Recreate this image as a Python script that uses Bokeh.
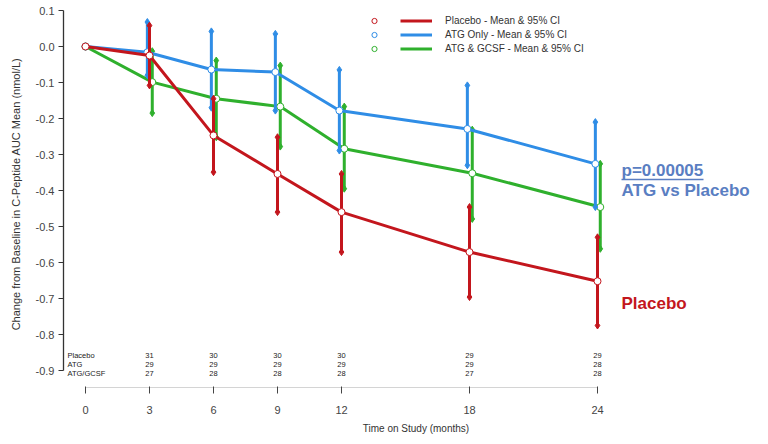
from bokeh.plotting import figure
from bokeh.models import Range1d, FixedTicker, Legend, LegendItem, Label, NumeralTickFormatter
from bokeh.embed import file_html
from bokeh.resources import INLINE
from bokeh.core.properties import value

# ---------------- data ----------------
months = [0, 3, 6, 9, 12, 18, 24]

placebo_mean = [0.0, -0.025, -0.247, -0.354, -0.460, -0.571, -0.652]
placebo_lo   = [0.0, -0.108, -0.349, -0.460, -0.571, -0.696, -0.775]
placebo_hi   = [0.0,  0.058, -0.145, -0.252, -0.354, -0.446, -0.530]

atg_mean = [0.0, -0.016, -0.064, -0.071, -0.178, -0.229, -0.326]
atg_lo   = [0.0, -0.080, -0.170, -0.178, -0.289, -0.330, -0.446]
atg_hi   = [0.0,  0.068,  0.042,  0.035, -0.065, -0.108, -0.210]

gcsf_mean = [0.0, -0.099, -0.145, -0.167, -0.284, -0.352, -0.446]
gcsf_lo   = [0.0, -0.185, -0.252, -0.278, -0.395, -0.479, -0.562]
gcsf_hi   = [0.0, -0.013, -0.039, -0.053, -0.167, -0.231, -0.326]

risk_months = [3, 6, 9, 12, 18, 24]
placebo_n = [31, 30, 30, 30, 29, 29]
atg_n     = [29, 29, 29, 29, 29, 28]
gcsf_n    = [27, 28, 28, 28, 27, 28]
risk_labels = ["Placebo", "ATG", "ATG/GCSF"]

legend_labels = ["Placebo - Mean & 95% CI", "ATG Only - Mean & 95% CI", "ATG & GCSF - Mean & 95% CI"]
x_ticks = [0, 3, 6, 9, 12, 18, 24]
y_ticks = [0.1, 0.0, -0.1, -0.2, -0.3, -0.4, -0.5, -0.6, -0.7, -0.8, -0.9]

# ---------------- layout ----------------
FONT = "Liberation Sans"
RED, BLUE, GREEN = "#c3161d", "#2f8de6", "#2fb02d"
W, H = 768, 444
L = 63
frame_h = 387
B = H - frame_h
X0, PXM = 85.0, 512.0 / 24      # px of month 0, px per month
Y0, PXU = 46.0, 360.0           # px of 0.0, px per unit

def xd(px):
    return (px - X0) / PXM

def yd(py):
    return (Y0 - py) / PXU

p = figure(width=W, height=H,
           x_range=Range1d(xd(L), xd(W)), y_range=Range1d(yd(frame_h), yd(0)),
           output_backend="svg", toolbar_location=None,
           min_border_left=L, min_border_right=0, min_border_top=0, min_border_bottom=B)
p.outline_line_color = None
p.xgrid.visible = False
p.ygrid.visible = False
p.background_fill_color = "white"

# x axis
xa = p.xaxis[0]
xa.ticker = FixedTicker(ticks=x_ticks)
xa.bounds = (0, 24)
xa.axis_line_color = "#d4d4d4"
xa.axis_line_width = 1
xa.major_tick_line_color = "#444444"
xa.major_tick_in = 1
xa.major_tick_out = 6
xa.minor_tick_line_color = None
xa.major_label_standoff = 12
xa.major_label_text_font = FONT
xa.major_label_text_font_size = "11px"
xa.major_label_text_color = "#444444"
xa.axis_label = "Time on Study (months)"
xa.axis_label_text_font = FONT
xa.axis_label_text_font_size = "10px"
xa.axis_label_text_font_style = "normal"
xa.axis_label_text_color = "#333333"
xa.axis_label_standoff = 6

# y axis
ya = p.yaxis[0]
ya.ticker = FixedTicker(ticks=y_ticks)
ya.formatter = NumeralTickFormatter(format="0.0")
ya.bounds = (-0.9, 0.1)
ya.axis_line_color = "#333333"
ya.axis_line_width = 1.3
ya.major_tick_line_color = "#333333"
ya.major_tick_in = 0
ya.major_tick_out = 5
ya.minor_tick_line_color = None
ya.major_label_standoff = 4
ya.major_label_text_font = FONT
ya.major_label_text_font_size = "11px"
ya.major_label_text_color = "#444444"
ya.axis_label = "Change from Baseline in C-Peptide AUC Mean (nmol/L)"
ya.axis_label_text_font = FONT
ya.axis_label_text_font_size = "11px"
ya.axis_label_text_font_style = "normal"
ya.axis_label_text_color = "#333333"
ya.axis_label_standoff = 11

# ---------------- series ----------------
series = [
    (gcsf_mean, gcsf_lo, gcsf_hi, GREEN, 0.13),
    (atg_mean, atg_lo, atg_hi, BLUE, -0.1),
    (placebo_mean, placebo_lo, placebo_hi, RED, 0.0),
]
line_r = {}
circ_r = {}
for mean, lo, hi, col, off in series:
    xs = [m + (off if m > 0 else 0) for m in months]
    lr = p.line(xs, mean, line_color=col, line_width=3)
    p.segment(x0=xs[1:], y0=lo[1:], x1=xs[1:], y1=hi[1:], line_color=col, line_width=3)
    p.scatter(xs[1:] + xs[1:], lo[1:] + hi[1:], marker="diamond", size=7,
              fill_color=col, line_color=col)
    cr = p.scatter(xs, mean, marker="circle", size=7, fill_color="white",
                   line_color=col, line_width=1)
    line_r[col] = lr
    circ_r[col] = cr

# legends
cols = [RED, BLUE, GREEN]
leg_top = 14
leg_h = 3 * 13 + 2 * 1
leg_lines = Legend(items=[LegendItem(label=lab, renderers=[line_r[c]]) for lab, c in zip(legend_labels, cols)],
                   location=(400 - L, frame_h - leg_top - leg_h), orientation="vertical",
                   glyph_width=32, glyph_height=13, label_height=13, spacing=1,
                   padding=0, margin=0, label_standoff=13,
                   border_line_alpha=0, background_fill_alpha=0,
                   label_text_font=FONT, label_text_font_size="10px", label_text_color="#333333")
leg_circ = Legend(items=[LegendItem(label=" ", renderers=[circ_r[c]]) for c in cols],
                  location=(367 - L, frame_h - leg_top - leg_h), orientation="vertical",
                  glyph_width=14, glyph_height=13, label_height=13, spacing=1,
                  padding=0, margin=0, label_standoff=0,
                  border_line_alpha=0, background_fill_alpha=0,
                  label_text_font=FONT, label_text_font_size="9px")
p.add_layout(leg_lines)
p.add_layout(leg_circ)

# number at risk table
row_py = [355, 364, 373]
for row, (lab, counts) in enumerate(zip(risk_labels, [placebo_n, atg_n, gcsf_n])):
    yy = yd(row_py[row])
    p.text(x=[xd(67)], y=[yy], text=[lab], text_font=value(FONT), text_font_size=value("7.5px"),
           text_align="left", text_baseline="middle", text_color="#222222")
    p.text(x=risk_months, y=[yy] * len(risk_months), text=[str(n) for n in counts],
           text_font=value(FONT), text_font_size=value("7.5px"),
           text_align="center", text_baseline="middle", text_color="#222222")

# annotations
ANN = "#5a7ec2"
p.add_layout(Label(x=xd(621), y=yd(170), text="p=0.00005", text_font=FONT, text_font_size="17px",
                   text_font_style="bold", text_color=ANN, text_align="left", text_baseline="middle"))
p.segment(x0=[xd(621)], y0=[yd(179)], x1=[xd(703)], y1=[yd(179)], line_color=ANN, line_width=1.5)
p.add_layout(Label(x=xd(621), y=yd(190), text="ATG vs Placebo", text_font=FONT, text_font_size="17px",
                   text_font_style="bold", text_color=ANN, text_align="left", text_baseline="middle"))
p.add_layout(Label(x=xd(621), y=yd(303), text="Placebo", text_font=FONT, text_font_size="17px",
                   text_font_style="bold", text_color=RED, text_align="left", text_baseline="middle"))

open("out.html", "w").write(file_html(p, INLINE))
